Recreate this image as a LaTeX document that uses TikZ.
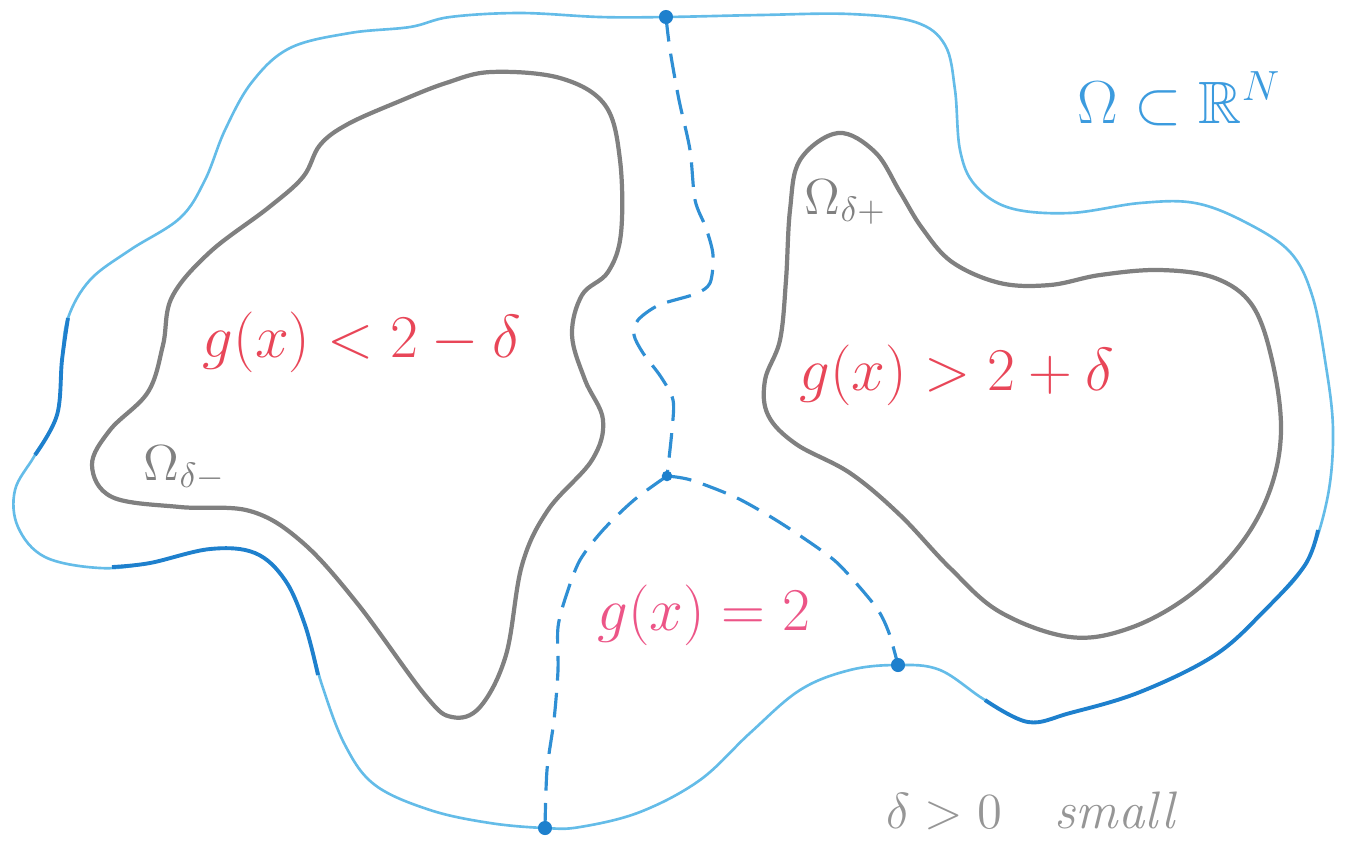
\documentclass[tikz,border=0pt]{standalone}
\usepackage{amssymb}
\definecolor{skyb}{RGB}{100,188,232}
\definecolor{deepb}{RGB}{30,128,205}
\definecolor{pencil}{RGB}{128,128,128}
\definecolor{redt}{RGB}{232,70,88}
\definecolor{pinkt}{RGB}{236,85,135}
\definecolor{labb}{RGB}{60,155,222}
\definecolor{greyt}{RGB}{150,150,150}
\tikzset{
  outerline/.style={skyb, line width=0.75pt},
  deepline/.style={deepb, line width=1.1pt},
  levelline/.style={pencil, line width=1.2pt},
  cutline/.style={deepb!75!skyb, line width=0.9pt, dash pattern=on 7pt off 3.5pt},
  dotnode/.style={circle, fill=deepb, inner sep=0pt, minimum size=4pt},
}
\begin{document}
\begin{tikzpicture}[x=0.01cm,y=-0.01cm]
\useasboundingbox (0,0) rectangle (1346,841);
% outer boundary of Omega
\draw[outerline] plot[smooth cycle, tension=0.6] coordinates {
(666,17) (760,15) (850,14) (915,22) (945,45) (955,90) (960,150) (975,185) (1010,208) (1070,213) (1140,203) (1195,203) (1245,222) (1290,252) (1312,295) (1325,360) (1333,430) (1327,500) (1305,565) (1265,610) (1215,655) (1140,692) (1070,713) (1028,722) (985,700) (940,670) (898,665) (850,670) (800,690) (750,733) (700,780) (640,812) (580,827) (545,828) (490,823) (430,810) (375,785) (345,745) (322,685) (305,625) (285,580) (255,553) (210,549) (150,563) (100,568) (45,557) (18,527) (15,490) (35,455) (57,415) (62,360) (68,318) (90,280) (130,250) (180,218) (205,180) (225,130) (252,82) (290,48) (350,33) (410,27) (450,17) (520,13) (600,17)};
% darker pencil strokes
\draw[deepline] plot[smooth, tension=0.6] coordinates {(35,455) (57,415) (62,360) (68,318)};
\draw[deepline] plot[smooth, tension=0.6] coordinates {(112,567) (150,563) (210,549) (255,553) (285,580) (305,625) (318,675)};
\draw[deepline] plot[smooth, tension=0.6] coordinates {(985,700) (1028,722) (1070,713) (1140,692) (1215,655) (1265,610) (1305,565) (1318,530)};
% level set Omega_{delta-}
\draw[levelline] plot[smooth cycle, tension=0.6] coordinates {
(491,72) (560,78) (605,105) (620,160) (621,233) (608,272) (582,295) (572,335) (585,380) (603,420) (592,460) (548,510) (522,565) (506,655) (480,707) (452,717) (425,695) (357,603) (302,542) (250,511) (180,507) (112,497) (92,465) (110,430) (148,392) (163,345) (172,297) (210,252) (268,208) (303,177) (320,145) (348,124) (400,101) (446,83)};
% level set Omega_{delta+}
\draw[levelline] plot[smooth cycle, tension=0.6] coordinates {
(838,133) (875,152) (900,192) (922,228) (952,262) (1000,283) (1050,285) (1100,275) (1160,270) (1215,278) (1252,305) (1272,360) (1281,430) (1270,490) (1240,545) (1190,595) (1130,628) (1070,637) (1000,612) (950,568) (900,515) (850,473) (796,444) (768,415) (765,380) (780,340) (786,280) (790,210) (800,160)};
% dots
\coordinate (ptop) at (666,17);
\coordinate (pmid) at (667,476);
\coordinate (pbot) at (545,828);
\coordinate (pright) at (898,665);
% dashed level set g = 2
\draw[cutline] plot[smooth, tension=0.5] coordinates {(ptop) (670,50) (679,100) (690,150) (695,200) (706,228) (713,255) (710,283) (695,294) (659,305) (638,320) (634,335) (643,353) (661,377) (673,400) (672,430) (pmid)};
\draw[cutline] plot[smooth, tension=0.5] coordinates {(pmid) (634,500) (603,530) (580,560) (567,593) (558,627) (558,670) (554,720) (547,770) (pbot)};
\draw[cutline] plot[smooth, tension=0.5] coordinates {(pmid) (691,480) (735,497) (771,517) (802,537) (834,560) (856,583) (878,610) (889,633) (pright)};
\node[dotnode] (dtop) at (ptop) {};
\node[dotnode, minimum size=3pt] (dmid) at (pmid) {};
\node[dotnode] (dbot) at (pbot) {};
\node[dotnode] (dright) at (pright) {};
% labels
\node[redt, anchor=base, font=\fontsize{17}{20}\selectfont] (tless) at (362,357) {$g(x) < 2 - \delta$};
\node[redt, anchor=base, font=\fontsize{18}{22}\selectfont] (tmore) at (957,390) {$g(x) > 2 + \delta$};
\node[pinkt, anchor=base, font=\fontsize{16}{20}\selectfont] (teq) at (704,630) {$g(x) = 2$};
\node[labb, anchor=base, font=\fontsize{17}{20}\selectfont] (tomega) at (1179,123) {$\Omega\subset\mathbb{R}^N$};
\node[greyt, anchor=base, font=\fontsize{15}{18}\selectfont] (tsmall) at (1032,828) {$\delta>0$\quad\textit{small}};
\node[pencil, anchor=base west, inner sep=0pt, font=\fontsize{14}{17}\selectfont] (tminus) at (143,480) {$\Omega_{\delta-}$};
\node[pencil, anchor=base west, inner sep=0pt, font=\fontsize{14}{17}\selectfont] (tplus) at (804,214) {$\Omega_{\delta+}$};
\end{tikzpicture}
\end{document}
